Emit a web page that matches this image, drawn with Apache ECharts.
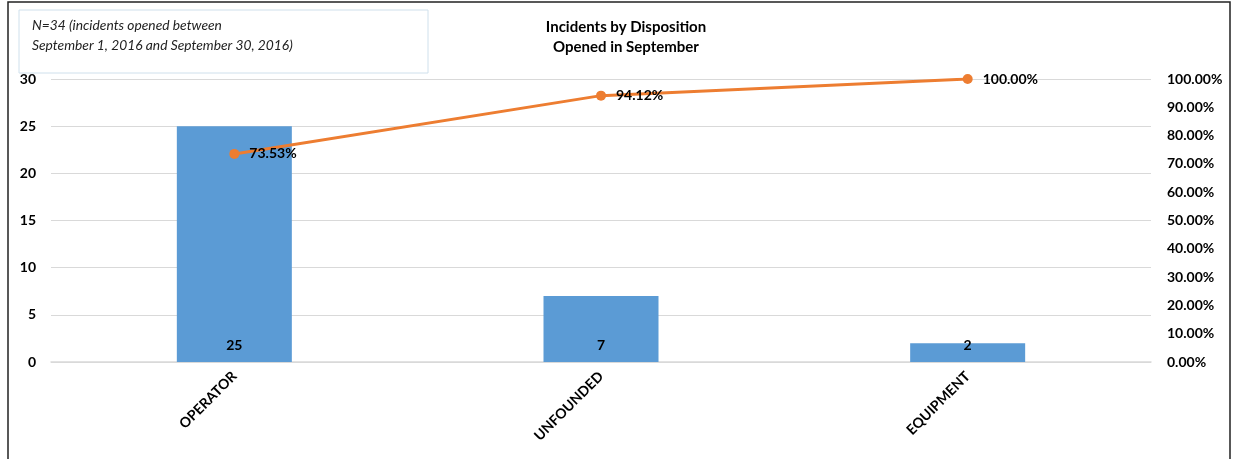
<!DOCTYPE html>
<html>
<head>
<meta charset="utf-8">
<script src="https://cdn.jsdelivr.net/npm/echarts@6/dist/echarts.min.js"></script>
<style>
  html, body { margin: 0; padding: 0; background: #fff; }
  #chart { width: 1238px; height: 459px; }
</style>
</head>
<body>
<div id="chart"></div>
<script>
var categories = ['OPERATOR', 'UNFOUNDED', 'EQUIPMENT'];
var counts = [25, 7, 2];
var cumulativePct = [73.53, 94.12, 100.00];
var leftTicks = { min: 0, max: 30, interval: 5 };
var rightTicks = { min: 0, max: 100, interval: 10 };

var FONT = 'Lato, "Liberation Sans", sans-serif';

var chart = echarts.init(document.getElementById('chart'));
var option = {
    animation: false,
    textStyle: { fontFamily: FONT },
    title: {
        text: 'Incidents by Disposition\nOpened in September',
        left: 621,
        top: 12,
        textAlign: 'center',
        textStyle: {
            fontFamily: FONT,
            fontSize: 15,
            fontWeight: 'bold',
            color: '#000',
            lineHeight: 20
        }
    },
    graphic: [
        {
            type: 'rect',
            shape: { x: 8, y: 2, width: 1222, height: 470 },
            style: { fill: 'none', stroke: '#222', lineWidth: 1.5 },
            silent: true
        },
        {
            type: 'rect',
            shape: { x: 19, y: 10, width: 409, height: 63 },
            style: { fill: '#fff', stroke: '#cfe0ec', lineWidth: 1 },
            silent: true
        },
        {
            type: 'text',
            left: 32,
            top: 16,
            style: {
                text: 'N=34 (incidents opened between\nSeptember 1, 2016 and September 30, 2016)',
                font: 'italic 13.8px ' + FONT,
                fill: '#222',
                lineHeight: 20
            },
            silent: true
        }
    ],
    grid: {
        left: 51,
        right: 87,
        top: 79,
        bottom: 97,
        containLabel: false
    },
    xAxis: {
        type: 'category',
        data: categories,
        axisTick: { show: false },
        axisLine: { show: true, lineStyle: { color: '#d9d9d9', width: 1.5 } },
        axisLabel: {
            rotate: 45,
            margin: 12,
            fontFamily: FONT,
            fontSize: 14,
            fontWeight: 'bold',
            color: '#000'
        }
    },
    yAxis: [
        {
            type: 'value',
            min: leftTicks.min,
            max: leftTicks.max,
            interval: leftTicks.interval,
            axisLine: { show: false },
            axisTick: { show: false },
            axisLabel: {
                margin: 15,
                fontFamily: FONT,
                fontSize: 14,
                fontWeight: 'bold',
                color: '#000'
            },
            splitLine: { lineStyle: { color: '#d9d9d9', width: 1 } }
        },
        {
            type: 'value',
            min: rightTicks.min,
            max: rightTicks.max,
            interval: rightTicks.interval,
            axisLine: { show: false },
            axisTick: { show: false },
            splitLine: { show: false },
            axisLabel: {
                margin: 16,
                fontFamily: FONT,
                fontSize: 14,
                fontWeight: 'bold',
                color: '#000',
                formatter: function (v) { return v.toFixed(2) + '%'; }
            }
        }
    ],
    series: [
        {
            type: 'bar',
            data: counts,
            barWidth: 115,
            itemStyle: { color: '#5B9BD5' },
            label: {
                show: true,
                position: 'insideBottom',
                distance: 10,
                fontFamily: FONT,
                fontSize: 14,
                fontWeight: 'bold',
                color: '#000'
            },
            z: 2
        },
        {
            type: 'line',
            yAxisIndex: 1,
            data: cumulativePct,
            symbol: 'circle',
            symbolSize: 10,
            lineStyle: { color: '#ED7D31', width: 3 },
            itemStyle: { color: '#ED7D31' },
            label: {
                show: true,
                position: 'right',
                distance: 10,
                fontFamily: FONT,
                fontSize: 14,
                fontWeight: 'bold',
                color: '#000',
                formatter: function (p) { return p.value.toFixed(2) + '%'; }
            },
            z: 3
        }
    ]
};
chart.setOption(option);
</script>
</body>
</html>
